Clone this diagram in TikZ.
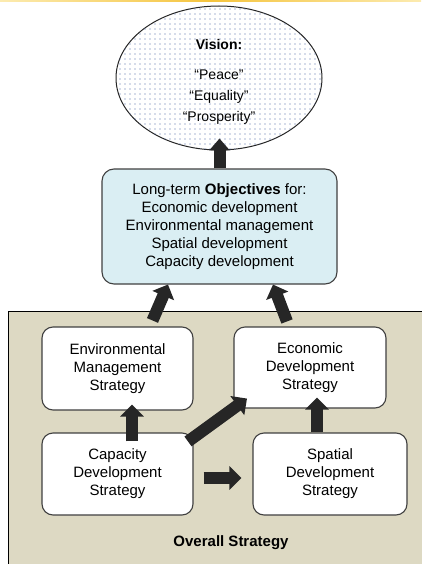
\documentclass[tikz,border=0pt]{standalone}
\usepackage{fontspec}
\setmainfont{Liberation Sans}
\usetikzlibrary{shapes.geometric,arrows.meta,patterns.meta}
\definecolor{tanbg}{HTML}{DDD9C3}
\definecolor{objblue}{HTML}{DAEEF3}
\definecolor{arrowdark}{HTML}{262626}
\definecolor{dotblue}{RGB}{80,105,165}
\definecolor{goldline}{HTML}{F5C43E}
\definecolor{paleyellow}{HTML}{FCEBB0}
\begin{document}
\begin{tikzpicture}[x=1pt,y=-1pt,
  every node/.style={font=\fontsize{15}{18}\selectfont, align=center, inner sep=0pt},
  stratbox/.style={draw=black!75, line width=1.1pt, fill=white, rounded corners=11pt},
  bigarrow/.style={draw=arrowdark, line width=12pt, -{Triangle[length=12pt,width=23pt]}},
]
\useasboundingbox (0,0) rectangle (421,564);
\shade[left color=paleyellow, right color=paleyellow, middle color=goldline] (0,0) rectangle (421,1.6);

% vision
\node[ellipse, draw=black!85, line width=1pt, fill=white,
      postaction={pattern={Dots[distance=5pt,radius=0.65pt]}, pattern color=dotblue},
      minimum width=206pt, minimum height=144pt] (vision) at (219,78) {};
\node[font=\fontsize{14}{18}\selectfont] (visiontext) at (219,82) {\textbf{Vision:}\\[12pt]“Peace”\\[3pt]“Equality”\\[3pt]“Prosperity”};

% objectives
\node[draw=black!75, line width=1.1pt, fill=objblue, rounded corners=12pt,
      minimum width=235pt, minimum height=115pt] (obj) at (219.5,226.5)
  {Long-term \textbf{Objectives} for:\\Economic development\\Environmental management\\Spatial development\\Capacity development};

% overall strategy background
\draw[fill=tanbg, draw=black, line width=1pt] (8,311) rectangle (440,580);
\node[font=\fontsize{15}{18}\selectfont\bfseries] (overall) at (231,543) {Overall Strategy};

% strategy boxes
\node[stratbox, minimum width=151pt, minimum height=83pt] (env) at (117.5,368.5)
  {Environmental\\Management\\Strategy};
\node[stratbox, minimum width=152pt, minimum height=81pt] (econ) at (310,367.5)
  {Economic\\Development\\Strategy};
\node[stratbox, minimum width=151pt, minimum height=82pt] (cap) at (117.5,474)
  {Capacity\\Development\\Strategy};
\node[stratbox, minimum width=154pt, minimum height=82pt] (spat) at (330,474)
  {Spatial\\Development\\Strategy};

% arrows
\draw[bigarrow, -{Triangle[length=12pt,width=20pt]}] (obj.north) -- ([shift={(0.5,-12)}]vision.south);
\draw[bigarrow] ([shift={(35,-6)}]env.north) -- ([shift={(-51.5,0)}]obj.south);
\draw[bigarrow] ([shift={(-23,-5)}]econ.north) -- ([shift={(53.5,0)}]obj.south);
\draw[bigarrow] ([shift={(14.5,9)}]cap.north) -- ([shift={(14.5,-6)}]env.south);
\draw[bigarrow] ([shift={(70.5,9)}]cap.north) -- ([shift={(-63,-10)}]econ.south);
\draw[bigarrow] ([shift={(10,4)}]cap.east) -- ([shift={(-11,4)}]spat.west);
\draw[bigarrow] ([shift={(-13,0)}]spat.north) -- ([shift={(7,-11)}]econ.south);
\end{tikzpicture}
\end{document}
